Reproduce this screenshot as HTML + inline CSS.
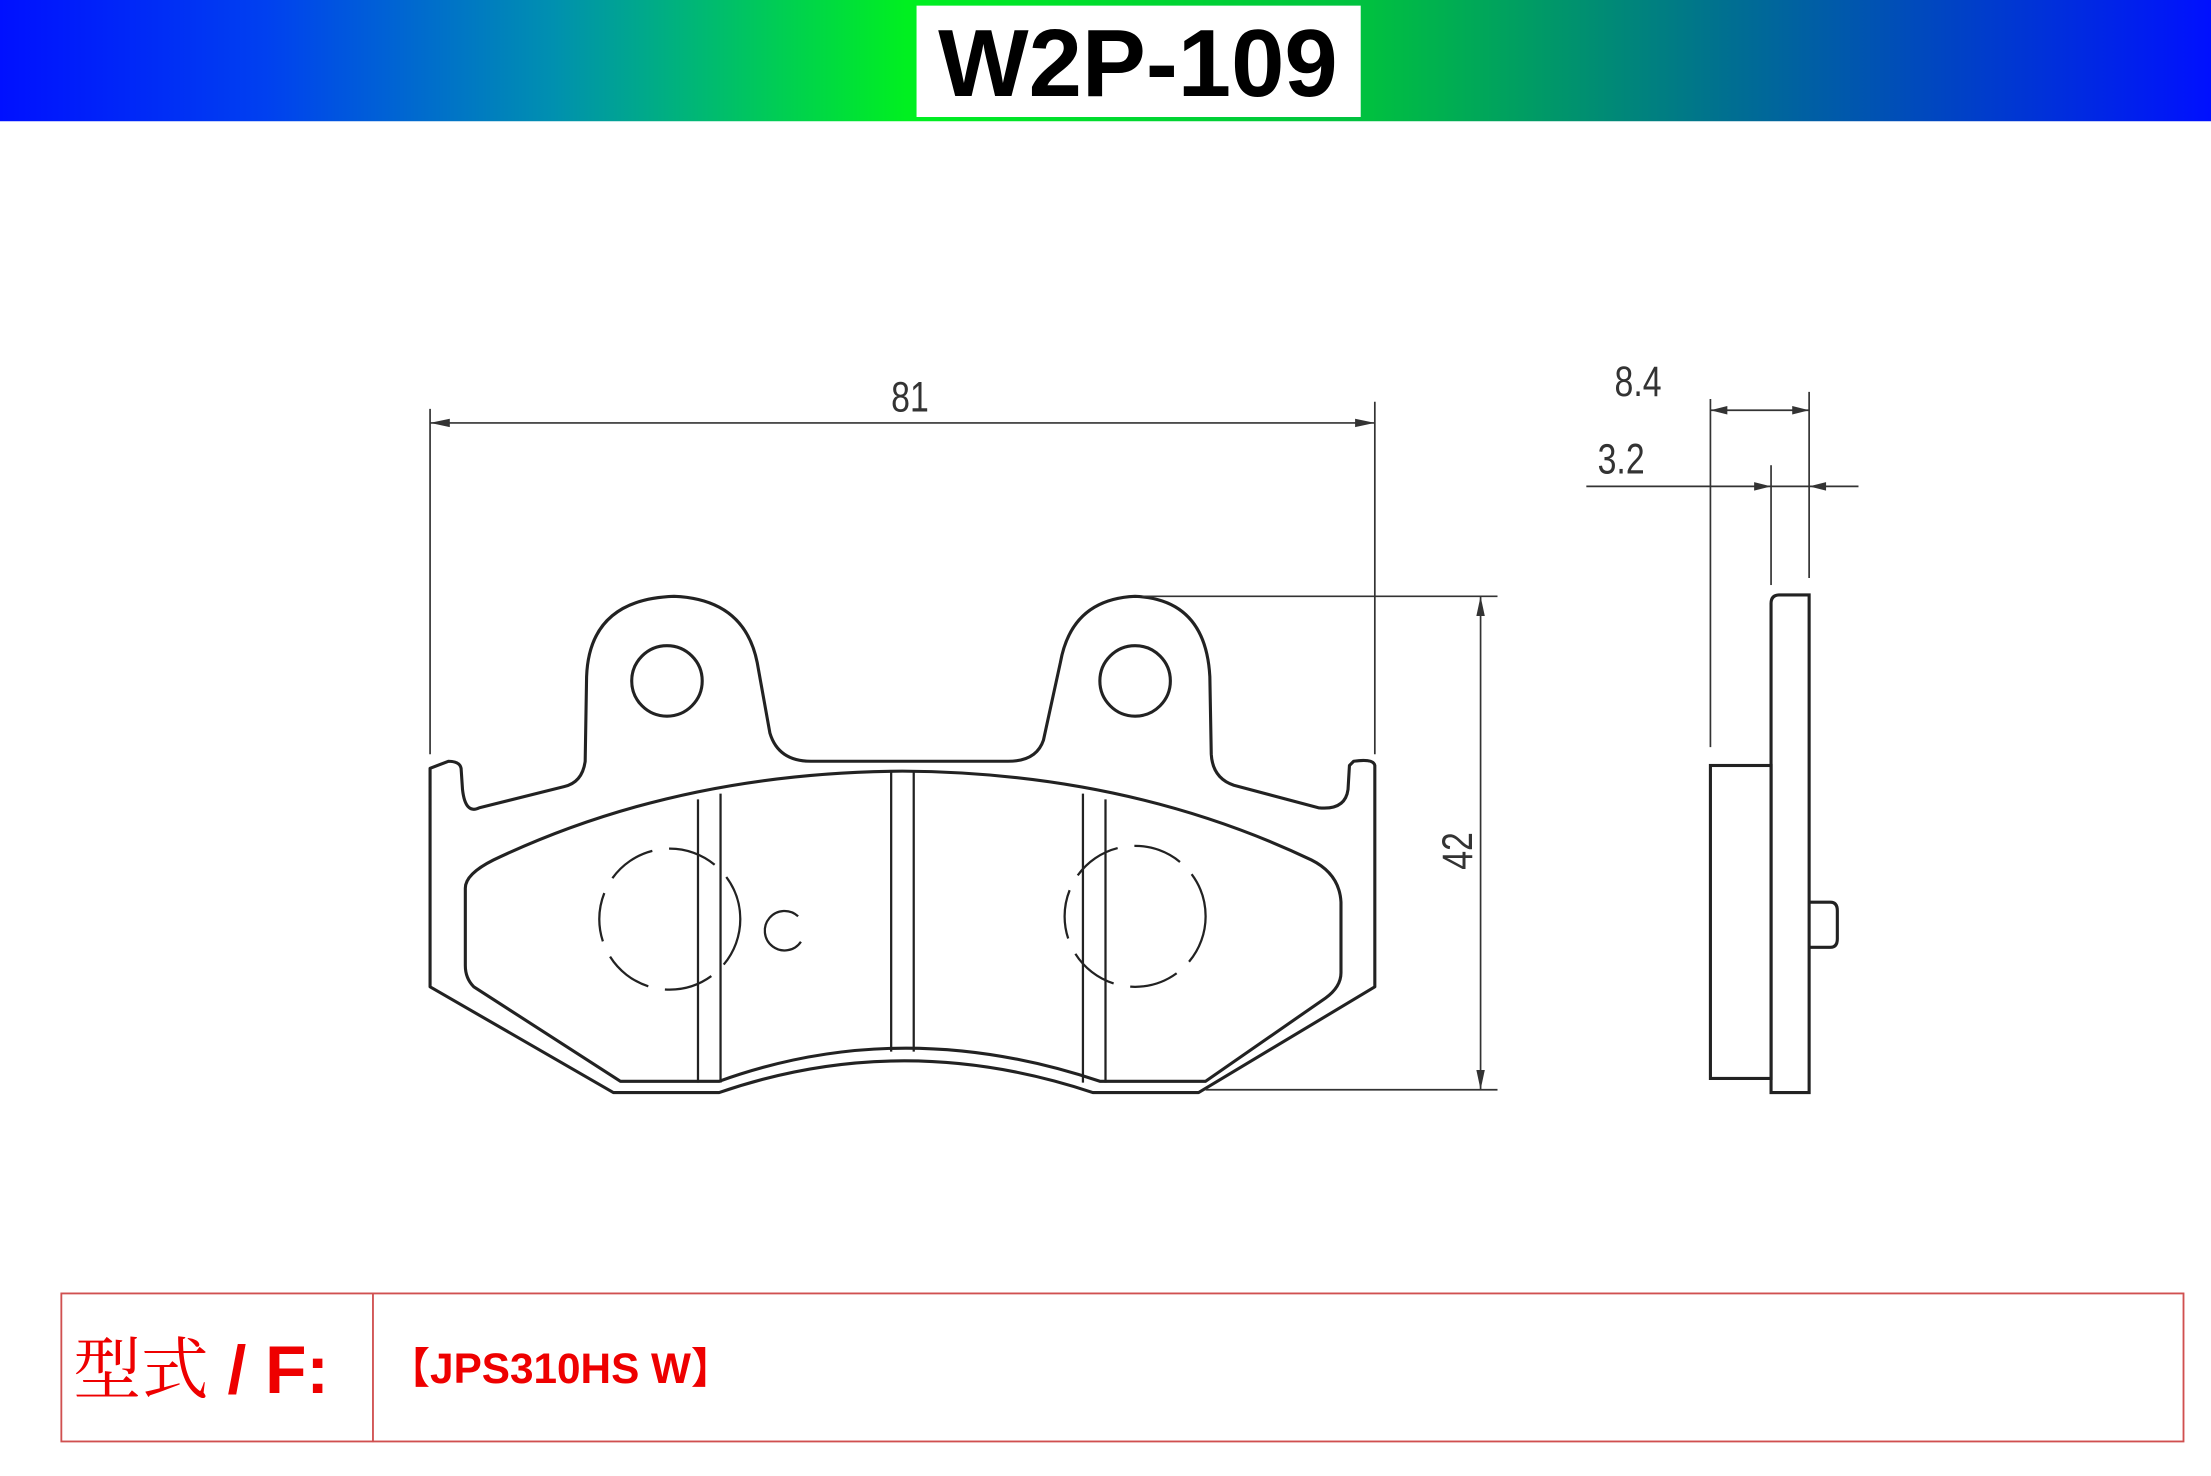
<!DOCTYPE html>
<html><head><meta charset="utf-8"><style>
html,body{margin:0;padding:0;background:#fff;}
svg{display:block;}
</style></head><body>
<svg width="2211" height="1476" viewBox="0 0 1568 1047" preserveAspectRatio="none" xmlns="http://www.w3.org/2000/svg">
<defs>
<linearGradient id="g" x1="0" x2="1" y1="0" y2="0">
<stop offset="0" stop-color="#0010ff"/>
<stop offset="0.12" stop-color="#0040f0"/>
<stop offset="0.25" stop-color="#0090b0"/>
<stop offset="0.41" stop-color="#00f020"/>
<stop offset="0.62" stop-color="#00c040"/>
<stop offset="0.78" stop-color="#007090"/>
<stop offset="1" stop-color="#0010ff"/>
</linearGradient>
</defs>
<rect x="0" y="0" width="1568" height="86" fill="url(#g)"/>
<rect x="650" y="4" width="315" height="79" fill="#fff"/>
<text x="807" y="68" text-anchor="middle" font-family="Liberation Sans, sans-serif" font-weight="bold" font-size="68" fill="#000">W2P-109</text>

<g fill="none" stroke="#222" stroke-width="2.2" stroke-linejoin="round">
<path d="M305,545 L305,700 L435,775 L510,775 Q640,730 775,775 L850,775 L975,700 L975,543 Q974,538 960,540 L957,543 L956,560 Q954,575 935,573 L875,557 Q860,552 859,535 L858,480 Q855,425 805,423 Q760,425 752,470 L740,525 Q735,540 715,540 L575,540 Q552,540 546,520 L537,470 Q528,425 478,423 Q418,425 416,480 L415,540 Q413,555 400,558 L340,573 Q330,578 328,560 L327,545 Q326,540 318,540 Z"/>
<path d="M330,630 Q330,620 350,610 Q480,548 640,547 Q800,548 930,610 Q950,620 951,640 L951,690 Q951,700 940,708 L855,767 L780,767 Q640,720 510,767 L440,767 L336,700 Q330,694 330,685 Z"/>
<circle cx="473" cy="483" r="25"/>
<circle cx="805" cy="483" r="25"/>
</g>
<g stroke="#222" stroke-width="1.6" fill="none">
<line x1="495" y1="567" x2="495" y2="768"/><line x1="511" y1="563" x2="511" y2="768"/>
<line x1="632" y1="548" x2="632" y2="746"/><line x1="648" y1="548" x2="648" y2="746"/>
<line x1="768" y1="563" x2="768" y2="768"/><line x1="784" y1="567" x2="784" y2="768"/>
<circle cx="475" cy="652" r="50" stroke-dasharray="35 12"/>
<circle cx="805" cy="650" r="50" stroke-dasharray="35 12"/>
<path d="M566,650 A14,14 0 1 0 568,668" />
</g>
<g stroke="#333" stroke-width="1.2" fill="none">
<line x1="305" y1="290" x2="305" y2="535"/>
<line x1="975" y1="285" x2="975" y2="535"/>
<line x1="305" y1="300" x2="975" y2="300"/>
<line x1="810" y1="423" x2="1062" y2="423"/>
<line x1="855" y1="773" x2="1062" y2="773"/>
<line x1="1050" y1="423" x2="1050" y2="773"/>
<line x1="1213" y1="283" x2="1213" y2="530"/>
<line x1="1256" y1="330" x2="1256" y2="415"/>
<line x1="1283" y1="278" x2="1283" y2="410"/>
<line x1="1213" y1="291" x2="1283" y2="291"/>
<line x1="1125" y1="345" x2="1318" y2="345"/>
</g>
<g fill="#333">
<path d="M305,300 l14,-3 l0,6 z"/><path d="M975,300 l-14,-3 l0,6 z"/>
<path d="M1050,423 l-3,14 l6,0 z"/><path d="M1050,773 l-3,-14 l6,0 z"/>
<path d="M1213,291 l12,-3 l0,6 z"/><path d="M1283,291 l-12,-3 l0,6 z"/>
<path d="M1256,345 l-12,-3 l0,6 z"/><path d="M1283,345 l12,-3 l0,6 z"/>
</g>
<g font-family="Liberation Sans, sans-serif" font-size="30" fill="#333">
<text x="632" y="292" transform="translate(632 0) scale(0.8 1) translate(-632 0)">81</text>
<text x="1145" y="281" transform="translate(1145 0) scale(0.8 1) translate(-1145 0)">8.4</text>
<text x="1133" y="336" transform="translate(1133 0) scale(0.8 1) translate(-1133 0)">3.2</text>
<text transform="translate(1044 617) rotate(-90) scale(0.8 1)">42</text>
</g>
<g fill="none" stroke="#222" stroke-width="2.2">
<path d="M1256,775 L1256,428 Q1256,422 1262,422 L1283,422 L1283,775 Z"/>
<rect x="1213" y="543" width="43" height="222"/>
<path d="M1283,640 L1298,640 Q1303,640 1303,646 L1303,666 Q1303,672 1298,672 L1283,672"/>
</g>
<rect x="43.5" y="917.5" width="1505" height="105" fill="none" stroke="#d05050" stroke-width="1.3"/>
<line x1="264.5" y1="917" x2="264.5" y2="1023" stroke="#d05050" stroke-width="1.3"/>
<text x="52" y="988" font-family="Liberation Sans, 'Noto Serif CJK SC', sans-serif" font-size="48" fill="#ee0000"><tspan font-family="'Noto Serif CJK SC', serif">型式</tspan><tspan font-weight="bold"> / F:</tspan></text>
<text x="275" y="981" font-family="Liberation Sans, 'Noto Sans CJK SC', sans-serif" font-weight="bold" font-size="30" fill="#ee0000">【JPS310HS W】</text>
</svg>
</body></html>
